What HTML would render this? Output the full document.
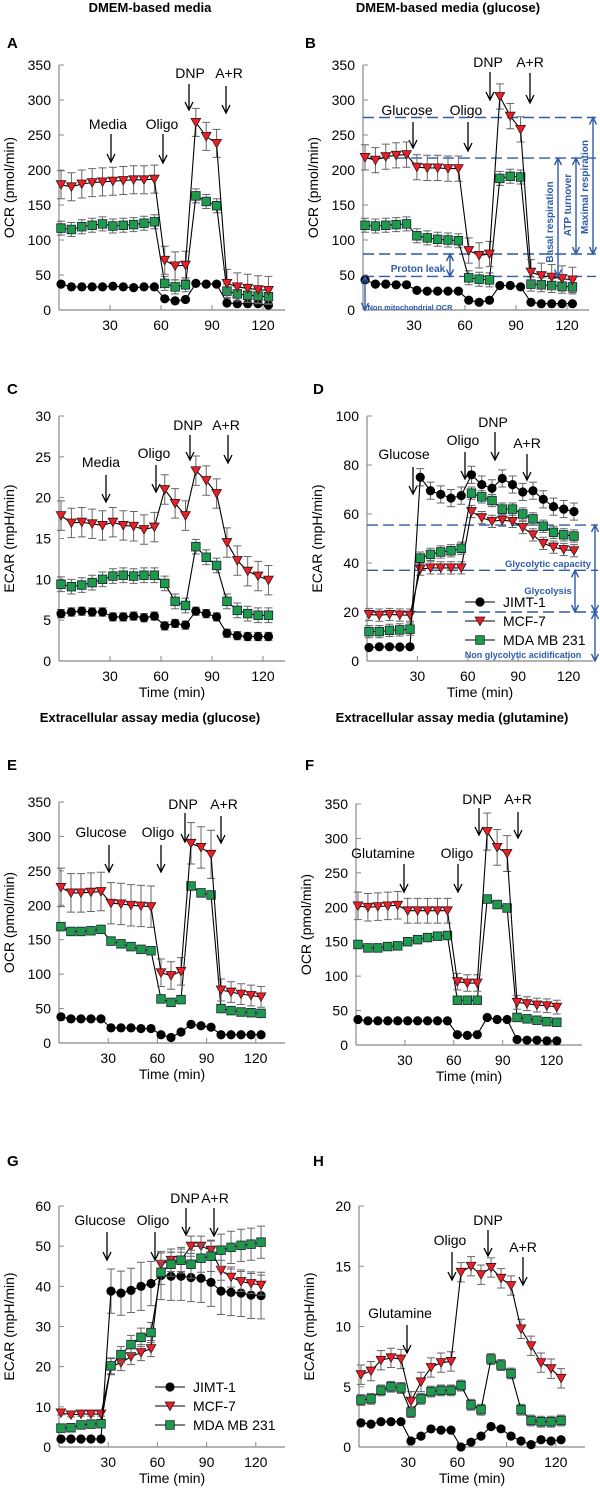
<!DOCTYPE html>
<html><head><meta charset="utf-8">
<style>
html,body{margin:0;padding:0;background:#fff;}
svg{display:block;font-family:"Liberation Sans",Arial,sans-serif;}
</style></head>
<body>
<svg id="fig" width="600" height="1505" viewBox="0 0 600 1505" xmlns="http://www.w3.org/2000/svg">
<g font-weight="bold" font-size="13" text-anchor="middle">
<text x="150" y="12">DMEM-based media</text>
<text x="448" y="12">DMEM-based media (glucose)</text>
<text x="150" y="722">Extracellular assay media (glucose)</text>
<text x="452" y="722">Extracellular assay media (glutamine)</text>
</g>
</svg>
<script>
// ---- data ----
const times = [1.2,7.3,13.4,19.5,25.6,31.7,37.8,43.9,50,56.1,62.2,68.3,74.4,80.5,86.6,92.7,98.8,104.9,111,117.1,123.2];
const xTicks = [30,60,90,120];
const ocrTicks = [0,50,100,150,200,250,300,350];
const ecar30Ticks = [0,5,10,15,20,25,30];
const ecar100Ticks = [0,20,40,60,80,100];
const ecar60Ticks = [0,10,20,30,40,50,60];
const ecar20Ticks = [0,5,10,15,20];
const seriesNames = ["JIMT-1","MCF-7","MDA MB 231"];

const aJimt = [37,33,33,33,33,34,33,32,33,33,16,13,15,38,37,37,10,9,9,9,7];
const aMcf  = [179,176,180,182,183,184,185,186,186,187,71,63,64,268,248,238,38,33,31,29,28];
const aMda  = [117,115,119,121,123,120,121,122,124,126,38,33,36,163,155,149,27,23,21,20,19];
const aErr  = [2,20,10];

const bJimt = [43,37,37,36,36,28,27,27,27,27,14,11,14,35,35,33,11,9,9,9,9];
const bMcf  = [218,214,219,221,222,204,203,203,202,202,85,78,80,305,277,258,54,49,47,45,43];
const bMda  = [121,120,121,122,123,106,103,101,100,99,46,44,43,188,191,190,37,36,35,34,33];
const bErr  = [2,18,10];
const bLines = [275,217,80,48];

const cJimt = [5.8,6,6.1,6,6,5.4,5.4,5.5,5.3,5.5,4.3,4.6,4.4,6.1,5.8,5.4,3.4,3.1,3,3,3];
const cMcf  = [17.8,16.9,17,16.8,16.6,17,16.6,16.5,16.1,16.4,21,19.3,17.8,23.3,22.1,20.5,14.5,12.3,11,10.4,9.9];
const cMda  = [9.4,9.1,9.3,9.6,10,10.4,10.5,10.4,10.5,10.5,9.5,7.3,6.8,14,12.7,11.7,7.3,6.2,5.8,5.6,5.6];
const cErr  = [0.5,1.8,0.9];

const dJimt = [5.5,5.8,5.8,5.7,5.8,75,69.5,68,66.5,67.5,76,72,70.5,74.5,72,69,69.5,66,63,62,61];
const dMcf  = [19,18.7,19,18.8,18.7,37.5,38,38,38,38,61,58.5,57,57.5,57,54.5,51.5,48,46.5,45.5,45];
const dMda  = [12,12,12.5,12.7,13,42,43.5,44.5,45,46,68.5,67,65.5,62,62,60,58,55,52.5,51.5,51];
const dErr  = [[0.5,0.5,0.5,0.5,0.5,3.5,3.5,3.5,3.5,3.5,3.5,3.5,3.5,3.5,3.5,3.5,3.5,3.5,3.5,3.5,3.5],2.5,2.5];
const dLines = [55.5,37,20];

const eJimt = [38,35,35,35,35,22,22,22,21,21,12,8,16,27,25,23,12,12,12,12,12];
const eMcf  = [226,218,218,219,220,203,202,200,199,198,102,98,104,290,284,274,77,74,71,69,67];
const eMda  = [169,162,162,163,165,148,144,140,136,134,64,59,63,228,218,215,50,47,45,44,43];
const eErr  = [1,[28,28,28,28,28,30,30,30,30,30,20,20,20,30,30,35,16,15,15,15,15],3];

const fJimt = [37,35,35,35,35,35,35,35,35,35,15,14,15,40,37,37,8,7,7,6,6];
const fMcf  = [202,200,201,202,203,195,195,195,195,195,92,90,90,310,287,278,62,60,58,57,55];
const fMda  = [146,141,141,143,144,150,153,156,158,159,65,65,65,212,204,199,40,38,36,34,33];
const fErr  = [1,[20,20,20,20,20,18,18,18,18,18,12,12,12,27,26,26,10,10,10,10,10],4];

const gJimt = [2,2,2,2,2,38.8,38.3,39,40,40.7,42.7,42.5,42.5,42.2,42,41,38.8,38.5,38.3,37.8,37.7];
const gMcf  = [8.5,8,8.2,8.2,8.2,20,21,22.5,23.5,24.5,45.5,46.5,46.5,50,50,49,44,42.3,41.2,40.7,40.3];
const gMda  = [4.7,4.8,5.5,5.7,5.8,20.2,23,25.5,27.3,28.5,43.5,45.5,46.5,45.5,47,47.5,49,49.7,50.2,50.5,51];
const gErr  = [[0.4,0.4,0.4,0.4,0.4,5.5,5.5,5.5,6,5.5,6,6,6,6,6,6,5.8,5.8,5.8,5.8,5.8],
               [0.5,0.5,0.5,0.5,0.5,2,2,2,2,2,2.8,2.8,2.8,2.5,2.5,2.5,2.5,2.5,2.5,2.5,2.5],
               [0.5,0.5,0.5,0.5,0.5,2,2,2.3,2.3,2.5,3,3,3.2,3.5,3.5,3.8,4,4,4,4,4]];

const hJimt = [2,1.9,2.1,2.1,2.1,0.5,0.9,1.5,1.4,1.4,0,0.4,0.9,1.7,1.5,0.9,0.5,0.2,0.6,0.5,0.6];
const hMcf  = [6,6.3,7.2,7.4,7.3,3.8,5.4,6.6,7,7.1,14.5,15,14.3,14.9,14,13.4,9.8,8.4,7,6.5,5.7];
const hMda  = [3.9,4,4.7,5,4.9,2.9,4,4.6,4.7,4.7,5.1,3.5,3.1,7.3,6.8,6.1,3.1,2.2,2.1,2.1,2.2];
const hErr  = [0.15,0.8,0.45];

// ---- drawing ----
const NS = "http://www.w3.org/2000/svg";
const svg = document.getElementById("fig");
const BLUE = "#2f5ba8";
function mk(tag, parent) { const e = document.createElementNS(NS, tag); parent.appendChild(e); return e; }
function at(e, o) { for (const k in o) e.setAttribute(k, o[k]); return e; }

function panel(cfg) {
  const g = mk("g", svg);
  
  
  const X = t => cfg.ax + t * cfg.xs;
  const Y = v => cfg.y0 - v / cfg.ymax * (cfg.y0 - cfg.yTop);
  cfg.X = X; cfg.Y = Y; cfg.g = g;
  const L = at(mk("text", g), {x: cfg.lx, y: cfg.ly, "font-size": 15, "font-weight": "bold"});
  L.textContent = cfg.id.toUpperCase();
  
  
  const axY = at(mk("line", g), {x1: cfg.ax, x2: cfg.ax, y1: cfg.yTop, y2: cfg.y0, stroke: "#888", "stroke-width": 1.2});
  
  
  const axX = at(mk("line", g), {x1: cfg.ax, x2: cfg.ax + 226, y1: cfg.y0, y2: cfg.y0, stroke: "#888", "stroke-width": 1.2});
  
  
  cfg.yTicks.forEach(v => {
    const tk = at(mk("line", g), {x1: cfg.ax, x2: cfg.ax + 5, y1: Y(v), y2: Y(v), stroke: "#888"});
    
    
    const tl = at(mk("text", g), {x: cfg.ax - 8, y: Y(v) + 5, "font-size": 14, "text-anchor": "end"});
    tl.textContent = v;
    
    
  });
  xTicks.forEach(v => {
    const tk = at(mk("line", g), {x1: X(v), x2: X(v), y1: cfg.y0, y2: cfg.y0 - 5, stroke: "#888"});
    
    
    const tl = at(mk("text", g), {x: X(v), y: cfg.y0 + 20, "font-size": 14, "text-anchor": "middle"});
    tl.textContent = v;
    
    
  });
  if (cfg.timeLabel) {
    const tl = at(mk("text", g), {x: cfg.ax + 113, y: cfg.y0 + 36, "font-size": 14, "text-anchor": "middle"});
    tl.textContent = "Time (min)";
    
    
  }
  const yc = (cfg.yTop + cfg.y0) / 2;
  const yl = at(mk("text", g), {x: cfg.ax - 45, y: yc, "font-size": 14, "text-anchor": "middle", transform: `rotate(-90 ${cfg.ax - 45} ${yc})`});
  yl.textContent = cfg.ylabel;
  
  
  cfg.ann.forEach(a => {
    const t = at(mk("text", g), {x: a[1], y: a[2], "font-size": 14, "text-anchor": "middle"});
    t.textContent = a[0];
    
    
    arrowDown(g, a[3], a[4], a[5]);
  });
}
function arrowDown(g, x, y1, y2) {
  const ar = at(mk("path", g), {d: `M${x} ${y1}V${y2}M${x - 4} ${y2 - 8}L${x} ${y2}L${x + 4} ${y2 - 8}`, stroke: "#000", "stroke-width": 1.3, fill: "none"});
  
  
}
function marker(g, kind, x, y) {
  let m;
  if (kind === 0) m = at(mk("circle", g), {cx: x, cy: y, r: 4.6, fill: "#000"});
  else if (kind === 1) m = at(mk("path", g), {d: `M${x - 4.8} ${y - 4}L${x + 4.8} ${y - 4}L${x} ${y + 4.5}Z`, fill: "#e8202a", stroke: "#3a1010", "stroke-width": 0.8});
  else m = at(mk("rect", g), {x: x - 4.3, y: y - 4.3, width: 8.6, height: 8.6, fill: "#1f9a4a", stroke: "#123", "stroke-width": 0.8});
  return m;
}
function series(cfg, kind, vals, errs) {
  const g = cfg.g, X = cfg.X, Y = cfg.Y;
  const sg = mk("g", g);
  
  
  vals.forEach((v, i) => {
    const err = Array.isArray(errs) ? errs[i] : errs;
    const x = X(times[i]);
    const eb = at(mk("path", sg), {d: `M${x} ${Y(v + err)}V${Y(v - err)}M${x - 4} ${Y(v + err)}H${x + 4}M${x - 4} ${Y(v - err)}H${x + 4}`, stroke: "#666", "stroke-width": 1, fill: "none"});
    
    
  });
  const ln = at(mk("polyline", sg), {points: vals.map((v, i) => X(times[i]) + "," + Y(v)).join(" "), fill: "none", stroke: "#000", "stroke-width": 1.1});
  
  
  vals.forEach((v, i) => {
    const m = marker(sg, kind, X(times[i]), Y(v));
    
    
  });
}
function legend(cfg, x, y) {
  const lg = mk("g", cfg.g);
  
  
  seriesNames.forEach((n, k) => {
    const yy = y + k * 19;
    const ln = at(mk("line", lg), {x1: x, x2: x + 30, y1: yy, y2: yy, stroke: "#000", "stroke-width": 1.1});
    
    
    const m = marker(lg, k, x + 15, yy);
    
    
    const t = at(mk("text", lg), {x: x + 38, y: yy + 5, "font-size": 14});
    t.textContent = n;
    
    
  });
}
function hdash(cfg, v, x2) {
  const l = at(mk("line", cfg.g), {x1: cfg.ax, x2: x2, y1: cfg.Y(v), y2: cfg.Y(v), stroke: BLUE, "stroke-width": 1.4, "stroke-dasharray": "11 5"});
  
  
}
function dblArrow(cfg, x, v1, v2) {
  const y1 = cfg.Y(v1), y2 = cfg.Y(v2);
  const a = at(mk("path", cfg.g), {d: `M${x} ${y1}V${y2}M${x - 3.5} ${y1 + 7}L${x} ${y1}L${x + 3.5} ${y1 + 7}M${x - 3.5} ${y2 - 7}L${x} ${y2}L${x + 3.5} ${y2 - 7}`, stroke: BLUE, "stroke-width": 1.4, fill: "none"});
  
  
}
function blueText(cfg, s, x, y, size, rot) {
  const t = at(mk("text", cfg.g), {x: x, y: y, "font-size": size, "font-weight": "bold", fill: BLUE, "text-anchor": "middle"});
  if (rot) t.setAttribute("transform", `rotate(-90 ${x} ${y})`);
  t.textContent = s;
  
  
}

const OCR = "OCR (pmol/min)", ECAR = "ECAR (mpH/min)";
const P = {
  a: {id:"a", lx:7, ly:48, ax:59, xs:1.70, yTop:65, y0:310, ymax:350, yTicks:ocrTicks, ylabel:OCR,
      ann:[["Media",108,129,111,134,162],["Oligo",162,129,163,134,163],["DNP",190,78,189,84,110],["A+R",229,78,226,86,113]]},
  b: {id:"b", lx:305, ly:48, ax:363, xs:1.70, yTop:65, y0:310, ymax:350, yTicks:ocrTicks, ylabel:OCR,
      ann:[["Glucose",407,115,413,122,148],["Oligo",466,115,468,122,151],["DNP",488,67,490,72,100],["A+R",530,67,530,73,103]]},
  c: {id:"c", lx:7, ly:394, ax:59, xs:1.70, yTop:416, y0:661, ymax:30, yTicks:ecar30Ticks, ylabel:ECAR, timeLabel:true,
      ann:[["Media",101,467,106,475,502],["Oligo",154,458,156,465,492],["DNP",188,430,190,435,460],["A+R",226,430,228,435,463]]},
  d: {id:"d", lx:313, ly:394, ax:367, xs:1.68, yTop:416, y0:661, ymax:100, yTicks:ecar100Ticks, ylabel:ECAR, timeLabel:true,
      ann:[["Glucose",404,459,413,467,494],["Oligo",463,445,465,452,479],["DNP",493,427,495,432,460],["A+R",527,448,527,454,480]]},
  e: {id:"e", lx:7, ly:770, ax:59, xs:1.64, yTop:802, y0:1043, ymax:350, yTicks:ocrTicks, ylabel:OCR, timeLabel:true,
      ann:[["Glucose",101,837,109,845,872],["Oligo",158,837,161,845,872],["DNP",183,809,185,813,842],["A+R",224,809,221,816,843]]},
  f: {id:"f", lx:305, ly:770, ax:356, xs:1.63, yTop:804, y0:1045, ymax:350, yTicks:ocrTicks, ylabel:OCR, timeLabel:true,
      ann:[["Glutamine",383,858,404,864,892],["Oligo",457,858,458,864,892],["DNP",477,804,479,808,835],["A+R",518,804,518,812,838]]},
  g: {id:"g", lx:7, ly:1166, ax:59, xs:1.64, yTop:1206, y0:1447, ymax:60, yTicks:ecar60Ticks, ylabel:ECAR, timeLabel:true,
      ann:[["Glucose",100,1225,107,1232,1260],["Oligo",153,1225,155,1232,1260],["DNP",185,1203,186,1208,1235],["A+R",215,1203,214,1208,1236]]},
  h: {id:"h", lx:313, ly:1166, ax:359, xs:1.64, yTop:1206, y0:1447, ymax:20, yTicks:ecar20Ticks, ylabel:ECAR, timeLabel:true,
      ann:[["Glutamine",400,1318,407,1325,1353],["Oligo",450,1245,452,1252,1280],["DNP",488,1225,488,1230,1256],["A+R",523,1252,523,1257,1285]]}
};
for (const k in P) panel(P[k]);

bLines.forEach(v => hdash(P.b, v, 596));
dLines.forEach(v => hdash(P.d, v, 598));

series(P.a,0,aJimt,aErr[0]); series(P.a,2,aMda,aErr[2]); series(P.a,1,aMcf,aErr[1]);
series(P.b,0,bJimt,bErr[0]); series(P.b,2,bMda,bErr[2]); series(P.b,1,bMcf,bErr[1]);
series(P.c,0,cJimt,cErr[0]); series(P.c,2,cMda,cErr[2]); series(P.c,1,cMcf,cErr[1]);
series(P.d,0,dJimt,dErr[0]); series(P.d,1,dMcf,dErr[1]); series(P.d,2,dMda,dErr[2]);
series(P.e,0,eJimt,eErr[0]); series(P.e,2,eMda,eErr[2]); series(P.e,1,eMcf,eErr[1]);
series(P.f,0,fJimt,fErr[0]); series(P.f,2,fMda,fErr[2]); series(P.f,1,fMcf,fErr[1]);
series(P.g,0,gJimt,gErr[0]); series(P.g,1,gMcf,gErr[1]); series(P.g,2,gMda,gErr[2]);
series(P.h,0,hJimt,hErr[0]); series(P.h,2,hMda,hErr[2]); series(P.h,1,hMcf,hErr[1]);

dblArrow(P.b, 593, bLines[0], bLines[2]);
dblArrow(P.b, 576, bLines[1], bLines[2]);
dblArrow(P.b, 558, bLines[1], bLines[3]);
dblArrow(P.b, 450, bLines[2], bLines[3]);
dblArrow(P.b, 365, bLines[3], 0);
blueText(P.b, "Maximal respiration", 588, 187, 10, true);
blueText(P.b, "ATP turnover", 571, 205, 10, true);
blueText(P.b, "Basal respiration", 553, 222, 10, true);
blueText(P.b, "Proton leak", 418, 272, 10, false);
blueText(P.b, "Non mitochondrial OCR", 410, 310, 7.5, false);
dblArrow(P.d, 595, dLines[0], dLines[2]);
dblArrow(P.d, 575, dLines[1], dLines[2]);
dblArrow(P.d, 595, dLines[2], 0);
blueText(P.d, "Glycolytic capacity", 548, 567, 9.5, false);
blueText(P.d, "Glycolysis", 548, 594, 9.5, false);
blueText(P.d, "Non glycolytic acidification", 523, 658, 9, false);

legend(P.d, 465, 602);
legend(P.g, 155, 1387);
</script>
</body></html>
